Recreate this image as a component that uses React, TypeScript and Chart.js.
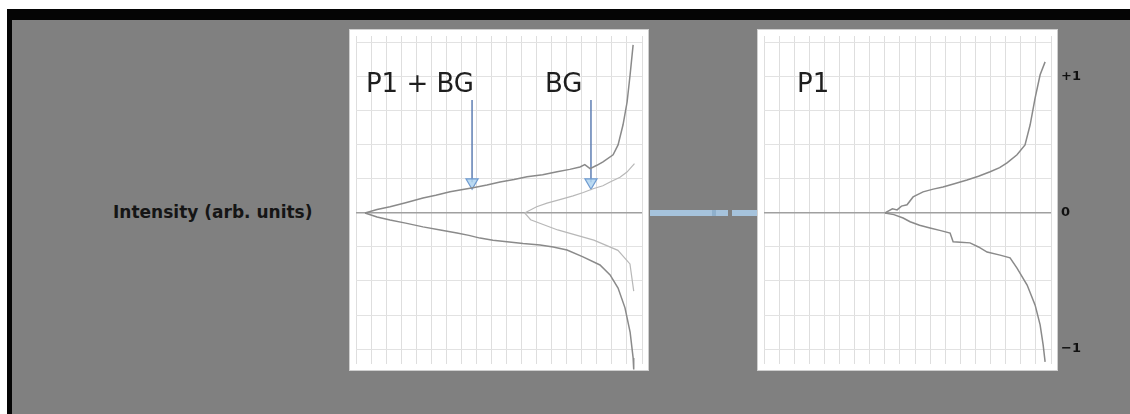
import React, { useEffect, useRef } from "react";
import { Chart, registerables } from "chart.js";
Chart.register(...registerables);

// ---- data (left panel: P1 + BG and BG; right panel: P1) ----
const xMin = 0;
const xMax = 19;
const yMin = -4.44;
const yMax = 5.2;

const p1bgUpperX = [0.6, 1.4, 2.26, 3.3, 4.45, 5.3, 6.25, 7.0, 7.77, 8.7, 9.57, 10.5, 11.36, 12.4, 13.36, 14.2, 14.88, 15.2, 15.55, 16.0, 16.41, 17.08, 17.41, 17.74, 18.01, 18.21, 18.41];
const p1bgUpperY = [0.0, 0.1, 0.18, 0.3, 0.44, 0.52, 0.62, 0.68, 0.74, 0.82, 0.91, 0.98, 1.06, 1.12, 1.21, 1.28, 1.35, 1.42, 1.3, 1.4, 1.5, 1.71, 2.0, 2.59, 3.26, 4.06, 4.94];
const p1bgLowerX = [0.6, 1.4, 2.26, 3.3, 4.45, 5.6, 6.71, 7.5, 8.24, 9.1, 10.03, 11.1, 12.23, 13.1, 14.02, 15.08, 16.21, 16.88, 17.41, 17.87, 18.21, 18.41, 18.45];
const p1bgLowerY = [0.0, -0.12, -0.21, -0.3, -0.41, -0.5, -0.59, -0.66, -0.74, -0.8, -0.85, -0.9, -0.94, -1.0, -1.09, -1.29, -1.53, -1.82, -2.21, -2.79, -3.5, -4.26, -4.6];

const bgUpperX = [11.2, 12.0, 12.69, 13.6, 14.42, 15.1, 15.75, 16.4, 16.88, 17.54, 18.0, 18.5];
const bgUpperY = [0.0, 0.18, 0.29, 0.4, 0.5, 0.6, 0.71, 0.8, 0.91, 1.05, 1.2, 1.45];
const bgLowerX = [11.2, 11.6, 13.4, 15.8, 17.4, 18.2, 18.45];
const bgLowerY = [0.0, -0.2, -0.5, -0.8, -1.1, -1.5, -2.3];

const p1UpperX = [8.01, 8.5, 8.81, 9.1, 9.47, 9.87, 10.53, 11.2, 11.85, 12.6, 13.44, 14.2, 14.97, 15.6, 16.09, 16.75, 17.28, 17.62, 17.95, 18.28, 18.61];
const p1UpperY = [0.0, 0.12, 0.09, 0.2, 0.24, 0.47, 0.62, 0.7, 0.76, 0.86, 0.97, 1.08, 1.21, 1.33, 1.47, 1.71, 2.0, 2.59, 3.38, 4.06, 4.44];
const p1LowerX = [8.01, 8.6, 9.21, 9.67, 10.3, 10.99, 11.7, 12.32, 12.52, 13.0, 13.64, 14.2, 14.77, 15.63, 16.29, 16.75, 17.42, 17.95, 18.28, 18.48, 18.61];
const p1LowerY = [0.0, -0.05, -0.15, -0.26, -0.36, -0.44, -0.52, -0.59, -0.85, -0.86, -0.88, -1.0, -1.15, -1.24, -1.32, -1.62, -2.12, -2.71, -3.29, -3.88, -4.38];

// arrows (left panel)
const arrowX = [7.71, 15.61];
const arrowTopY = [3.32, 3.32];
const arrowTipY = [0.9, 0.9];

// panel labels
const leftLabels = ["P1 + BG", "BG"];
const leftLabelX = [4.25, 13.8];
const leftLabelY = [3.76, 3.76];
const rightLabels = ["P1"];
const rightLabelX = [3.25];
const rightLabelY = [3.76];

// right-side tick labels
const rightTickValues = [4, 0, -4];
const rightTickLabels = ["+1", "0", "−1"];

const yAxisText = "Intensity (arb. units)";

const zip = (xs: number[], ys: number[]) => xs.map((x, i) => ({ x, y: ys[i] }));

const panelPlugin = {
  id: "panelBg",
  beforeDraw(chart: any) {
    const { ctx, chartArea: a } = chart;
    ctx.save();
    ctx.fillStyle = "#ffffff";
    ctx.fillRect(a.left - 6, a.top - 6, a.width + 12, a.height + 12);
    ctx.strokeStyle = "#cfcfcf";
    ctx.lineWidth = 1;
    ctx.strokeRect(a.left - 6.5, a.top - 6.5, a.width + 13, a.height + 13);
    ctx.restore();
  },
};

const labelPlugin = {
  id: "panelLabels",
  afterDatasetsDraw(chart: any, _args: any, opts: any) {
    if (!opts || !opts.texts) return;
    const { ctx, scales } = chart;
    ctx.save();
    ctx.fillStyle = "#1e1e1e";
    ctx.font = "26px 'DejaVu Sans'";
    ctx.textAlign = "center";
    ctx.textBaseline = "middle";
    opts.texts.forEach((t: string, i: number) => {
      ctx.fillText(t, scales.x.getPixelForValue(opts.xs[i]), scales.y.getPixelForValue(opts.ys[i]));
    });
    ctx.restore();
  },
};

const gridColor = (c: any) => (c.tick && c.tick.value === 0 ? "#a0a0a0" : "#e2e2e2");
const gridWidth = (c: any) => (c.tick && c.tick.value === 0 ? 1.5 : 1);

function baseScales() {
  return {
    x: {
      type: "linear",
      min: xMin,
      max: xMax,
      ticks: { display: false, stepSize: 1, includeBounds: false },
      grid: { color: "#dedede", drawTicks: false },
      border: { display: false },
    },
    y: {
      type: "linear",
      min: yMin,
      max: yMax,
      ticks: { display: false, stepSize: 1, includeBounds: false },
      grid: { color: gridColor, lineWidth: gridWidth, drawTicks: false },
      border: { display: false },
    },
  } as any;
}

const lineDs = (label: string, data: any[], color: string, width: number) => ({
  label,
  data,
  borderColor: color,
  borderWidth: width,
  pointRadius: 0,
  tension: 0,
  fill: false,
  clip: 8,
});

const arrowDs = (i: number) => ({
  label: "arrow" + i,
  data: [
    { x: arrowX[i], y: arrowTopY[i] },
    { x: arrowX[i], y: arrowTipY[i] },
  ],
  borderColor: "#5f7fb3",
  borderWidth: 1.5,
  pointRadius: [0, 7],
  pointStyle: "triangle",
  rotation: 180,
  pointBackgroundColor: "rgba(175,212,240,0.85)",
  pointBorderColor: "#6f9bd0",
  pointBorderWidth: 1.2,
});

function LeftPanel() {
  const ref = useRef<HTMLCanvasElement>(null);
  useEffect(() => {
    const chart = new Chart(ref.current!, {
      type: "line",
      data: {
        datasets: [
          lineDs("P1 + BG upper", zip(p1bgUpperX, p1bgUpperY), "#8a8a8a", 1.5),
          lineDs("P1 + BG lower", zip(p1bgLowerX, p1bgLowerY), "#8a8a8a", 1.5),
          lineDs("BG upper", zip(bgUpperX, bgUpperY), "#b8b8b8", 1.2),
          lineDs("BG lower", zip(bgLowerX, bgLowerY), "#b8b8b8", 1.2),
          arrowDs(0),
          arrowDs(1),
        ] as any,
      },
      options: {
        responsive: false,
        animation: false,
        layout: { padding: { left: 16, right: 18, top: 11, bottom: 13 } },
        scales: baseScales(),
        plugins: {
          legend: { display: false },
          tooltip: { enabled: false },
          panelLabels: { texts: leftLabels, xs: leftLabelX, ys: leftLabelY },
        } as any,
      },
      plugins: [panelPlugin, labelPlugin],
    });
    return () => chart.destroy();
  }, []);
  return <canvas ref={ref} width={320} height={352} style={{ position: "absolute", left: 340, top: 25 }} />;
}

function RightPanel() {
  const ref = useRef<HTMLCanvasElement>(null);
  useEffect(() => {
    const scales = baseScales();
    scales.y2 = {
      type: "linear",
      position: "right",
      min: yMin,
      max: yMax,
      afterBuildTicks: (s: any) => {
        s.ticks = rightTickValues.map((v) => ({ value: v }));
      },
      afterFit: (s: any) => {
        s.width = 45;
        s.paddingTop = 0;
        s.paddingBottom = 0;
      },
      ticks: {
        padding: 10,
        color: "#111",
        font: { family: "'DejaVu Sans'", size: 13, weight: "bold" },
        callback: (v: any) => {
          const i = rightTickValues.indexOf(Number(v));
          return i >= 0 ? rightTickLabels[i] : "";
        },
      },
      grid: { display: false, drawTicks: false },
      border: { display: false },
    };
    const chart = new Chart(ref.current!, {
      type: "line",
      data: {
        datasets: [
          lineDs("P1 upper", zip(p1UpperX, p1UpperY), "#8a8a8a", 1.5),
          lineDs("P1 lower", zip(p1LowerX, p1LowerY), "#8a8a8a", 1.5),
        ] as any,
      },
      options: {
        responsive: false,
        animation: false,
        layout: { padding: { left: 14, right: 24, top: 11, bottom: 13 } },
        scales,
        plugins: {
          legend: { display: false },
          tooltip: { enabled: false },
          panelLabels: { texts: rightLabels, xs: rightLabelX, ys: rightLabelY },
        } as any,
      },
      plugins: [panelPlugin, labelPlugin],
    });
    return () => chart.destroy();
  }, []);
  return <canvas ref={ref} width={370} height={352} style={{ position: "absolute", left: 750, top: 25 }} />;
}

export default function App() {
  return (
    <div style={{ position: "fixed", left: 0, top: 0, width: 1130, height: 414, background: "#ffffff", overflow: "hidden" }}>
      <div
        style={{
          position: "absolute",
          left: 7,
          top: 9,
          width: 1123,
          height: 405,
          boxSizing: "border-box",
          background: "#808080",
          borderTop: "11px solid #050505",
          borderLeft: "5px solid #050505",
        }}
      />
      <div
        style={{
          position: "absolute",
          left: 113,
          top: 202,
          fontFamily: "'DejaVu Sans'",
          fontWeight: "bold",
          fontSize: 17,
          color: "#151515",
          whiteSpace: "nowrap",
        }}
      >
        {yAxisText}
      </div>
      <div
        style={{
          position: "absolute",
          left: 650,
          top: 210,
          width: 108,
          height: 6,
          background: "repeating-linear-gradient(90deg, #a6c3dc 0 62px, #8fb0cc 62px 66px, #a6c3dc 66px 78px, #808080 78px 82px)",
        }}
      />
      <LeftPanel />
      <RightPanel />
    </div>
  );
}
